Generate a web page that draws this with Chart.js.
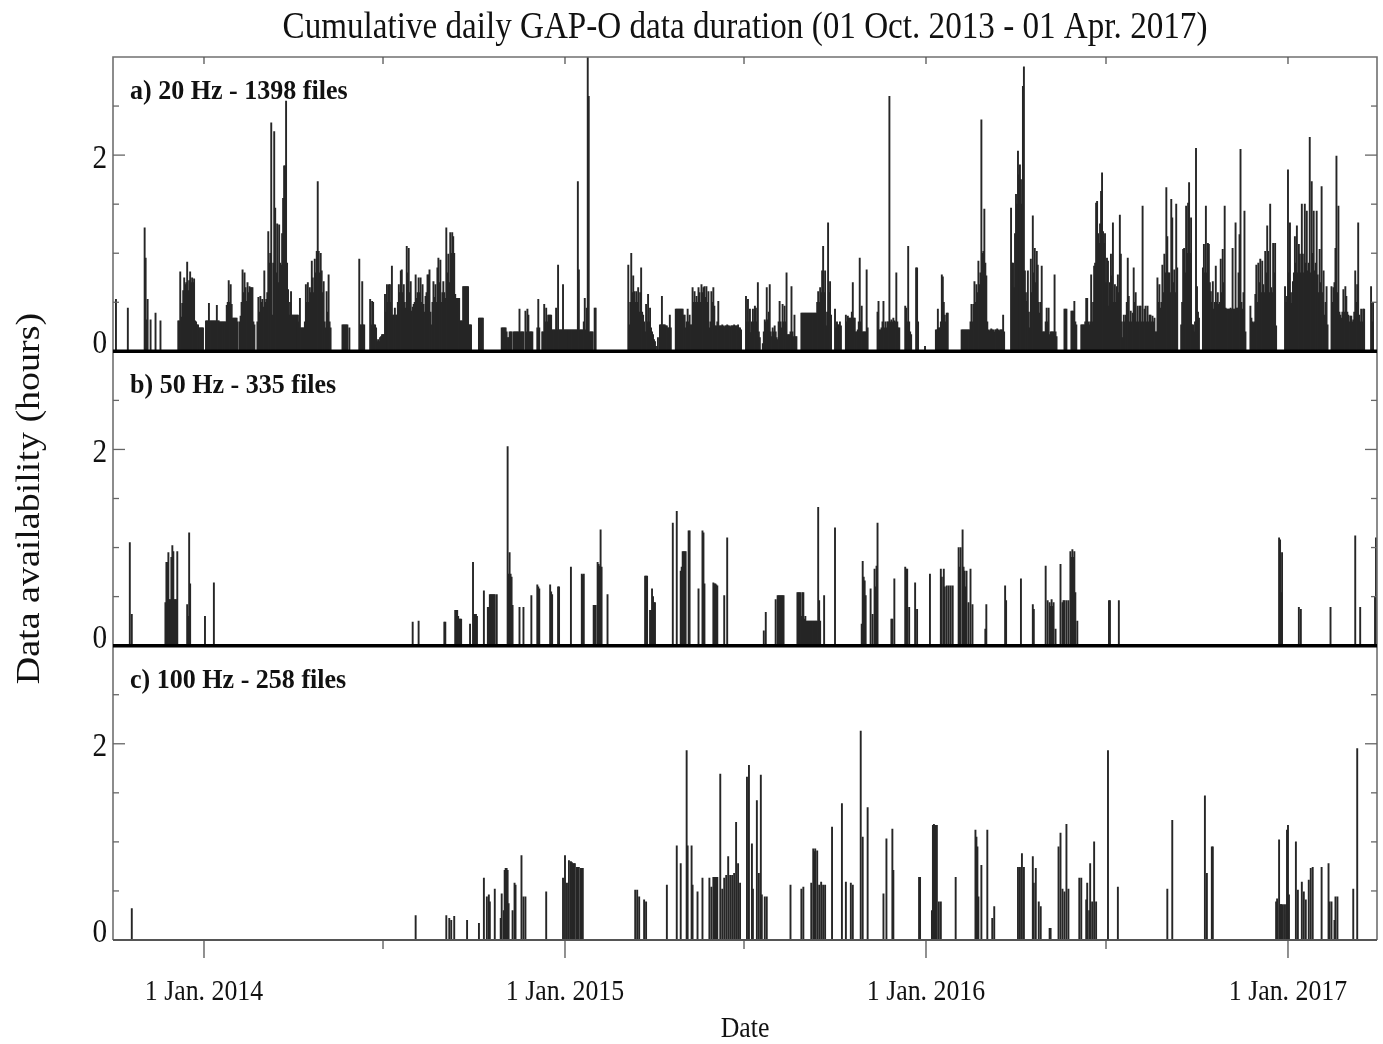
<!DOCTYPE html>
<html>
<head>
<meta charset="utf-8">
<title>Cumulative daily GAP-O data duration</title>
<script src="https://cdn.jsdelivr.net/npm/chart.js@4.4.1/dist/chart.umd.min.js"></script>
<style>
  html, body { margin: 0; padding: 0; background: #ffffff; }
  canvas { display: block; }
</style>
</head>
<body>
<canvas id="chart" width="1383" height="1044"></canvas>
<script>
// ---- record period -------------------------------------------------------
const seriesStart = Date.UTC(2013, 9, 1);          // 01 Oct. 2013
const seriesDays = 1278;                            // up to 01 Apr. 2017
const hoursMax = 3;

// ---- axis ticks (days since 01 Oct. 2013) --------------------------------
const xTickDays = [92, 457, 822, 1188];
const xTickLabels = ['1 Jan. 2014', '1 Jan. 2015', '1 Jan. 2016', '1 Jan. 2017'];
const xMinorDays = [273, 638, 1004];                // 1 July
const yTickValues = [0, 2];
const yTickLabels = ['0', '2'];
const yMinorStep = 0.5;

// ---- texts ----------------------------------------------------------------
const chartTitle = 'Cumulative daily GAP-O data duration (01 Oct. 2013 - 01 Apr. 2017)';
const xTitle = 'Date';
const yTitle = 'Data availability (hours)';
const panelLabels = ['a) 20 Hz - 1398 files', 'b) 50 Hz - 335 files', 'c) 100 Hz - 258 files'];

// ---- 20 Hz: one row per month from Oct. 2013, one value per day (hours) ---
const hz20Monthly = [
  [0,0,0,0.53,0,0,0,0,0,0,0,0,0,0,0,0.44,0,0,0,0,0,0,0,0,0,0,0,0,0,0,0],
  [0,1.26,0.95,0.32,0.53,0,0,0.32,0,0,0,0,0.39,0,0,0,0,0.31,0,0,0,0,0,0,0,0,0,0,0,0],
  [0,0,0,0,0,0.31,0.31,0.81,0.35,0.49,0.62,0.75,0.68,0.7,0.91,0.62,0.72,0.81,0.7,0.75,0.7,0.74,0.31,0.3,0.27,0.27,0.24,0.24,0.24,0.24,0.24],
  [0,0,0.31,0.31,0.31,0.49,0.31,0.31,0.31,0.31,0.31,0.31,0.31,0.47,0.31,0.31,0.3,0.3,0.3,0.3,0.3,0.3,0.3,0.47,0.5,0.72,0.5,0.68,0.48,0.34,0.34],
  [0.34,0.34,0.34,0.3,0,0.3,0.36,0.5,0.83,0.6,0.8,0.65,0.51,0.7,0.6,0.66,0.65,0.65,0.65,0.3,0.27,0,0,0.3,0.55,0.4,0.56,0.5],
  [0.53,0.45,0.82,0.5,0.53,0.6,1.22,0.9,1.0,2.33,0.37,0.9,2.24,1.46,0.8,1.3,0.7,1.29,0.9,0.88,1.2,1.56,1.89,1.89,2.55,0.9,0.63,0.37,0.5,0.61,0.37],
  [0.37,0.37,0.37,0.37,0.37,0.37,0.3,0.54,0.24,0.24,0.24,0.24,0.3,0.68,0.5,0.7,0.5,0.65,0.6,0.92,0.75,0.6,0.94,0.8,1.02,1.73,1.02,0.8,1.0,0.82],
  [0.6,0.71,0.3,0.24,0.61,0.4,0.78,0.3,0.24,0,0,0,0,0,0,0,0,0,0,0,0.27,0.27,0.27,0.27,0.27,0.27,0,0.24,0,0,0],
  [0,0,0,0,0,0,0.94,0.27,0.27,0.71,0.27,0.27,0,0,0,0,0,0.53,0.27,0.51,0.5,0.27,0.27,0.24,0.1,0.12,0.1,0.14,0.15,0.17],
  [0.17,0.17,0.58,0.4,0.68,0.5,0.68,0.68,0.5,0.87,0.37,0.37,0.44,0.37,0.37,0.5,0.68,0.6,0.82,0.83,0.6,0.68,0.5,0.44,1.07,0.8,1.05,0.6,0.71,0.41,0.45],
  [0.48,0.5,0.78,0.54,0.6,0.75,0.6,0.75,0.5,0.68,0.48,0.4,0.56,0.6,0.78,0.78,0.83,0.4,0.27,0.5,0.71,0.55,0.68,0.5,0.85,0.95,0.7,0.93,0.5,0.6,0.71],
  [0.6,0.54,1.26,0.8,0.99,0.7,1.21,1.0,1.21,1.17,1.0,0.58,0.54,0.54,0.54,0.54,0.31,0.31,0.31,0.66,0.66,0.66,0.66,0.66,0.66,0.27,0.27,0.27,0,0],
  [0,0,0,0,0,0.34,0.34,0.34,0.34,0.34,0,0,0,0,0,0,0,0,0,0,0,0,0,0,0,0,0,0,0.24,0.24,0.24],
  [0.24,0.24,0.2,0.14,0.14,0.2,0.2,0.2,0,0.2,0.2,0.2,0.2,0.2,0.2,0.43,0.2,0.2,0.2,0.2,0,0.41,0.2,0.43,0.37,0.2,0.2,0.2,0.2,0],
  [0,0,0,0.24,0.53,0.24,0,0,0.2,0.2,0.48,0.3,0.44,0.3,0.37,0.37,0.37,0.37,0.22,0.22,0.22,0.22,0.44,0.22,0.88,0.22,0.22,0.22,0.22,0.68,0.22],
  [0.22,0.22,0.22,0.22,0.22,0.22,0.22,0.22,0.22,0.22,0.22,0.22,0.22,1.73,0.83,0.22,0.22,0.22,0.22,0.3,0.54,0.22,0.44,3.05,2.6,0.2,0.2,0.2,0.2,0,0.44],
  [0.44,0,0,0,0,0,0,0,0,0,0,0,0,0,0,0,0,0,0,0,0,0,0,0,0,0,0,0],
  [0,0,0,0,0,0.88,0.27,0.5,1.0,0.6,0.77,0.61,0.5,0.61,0.5,0.65,0.4,0.6,0.85,0.4,0.37,0.3,0.2,0.48,0.3,0.58,0.3,0.44,0.24,0.2,0.17],
  [0.12,0.1,0.05,0,0.14,0,0.27,0.27,0.56,0.27,0.27,0.27,0.26,0.26,0.24,0.24,0.37,0.24,0,0,0,0,0.43,0.43,0.43,0.43,0.43,0.43,0.43,0.43],
  [0.37,0.37,0.24,0.3,0.43,0.3,0.37,0.27,0.27,0.65,0.5,0.61,0.5,0.56,0.5,0.65,0.6,0.5,0.68,0.6,0.65,0.66,0.55,0.66,0.5,0.61,0.24,0.3,0.61,0.5,0.65],
  [0.46,0.26,0.26,0.3,0.51,0.26,0.26,0.26,0.27,0.26,0.25,0.26,0.26,0.27,0.26,0.26,0.25,0.26,0.26,0.26,0.27,0.26,0.26,0.26,0.27,0.24,0.24,0.22,0,0],
  [0,0,0.56,0.3,0.53,0.3,0.43,0.19,0.3,0.43,0.3,0.46,0.44,0.3,0.7,0.2,0.14,0,0,0.08,0.2,0.32,0.3,0.65,0.32,0.4,0.68,0.2,0.15,0.24,0.2],
  [0.26,0.2,0.14,0.12,0.3,0.51,0.3,0.24,0.48,0.3,0.46,0.3,0.8,0.17,0.17,0.17,0.2,0.66,0.2,0.15,0.37,0.15,0.15,0,0,0,0,0.39,0.39,0.39,0.39],
  [0.39,0.39,0.39,0.39,0.39,0.39,0.39,0.39,0.39,0.39,0.39,0.39,0.5,0.61,0.5,0.65,0.6,0.82,1.07,0.6,0.82,0.26,0.4,1.31,0.6,0.71,0.37,0,0,0],
  [0.43,0.24,0.3,0.27,0.27,0.3,0.26,0,0,0,0,0.37,0.3,0.36,0.34,0.34,0.34,0.4,0.7,0.34,0.34,0.2,0.2,0.22,0.3,0.95,0.3,0.46,0.2,0.2,0.2],
  [0.2,0.83,0.24,0,0,0,0,0,0,0,0,0,0.4,0.51,0.22,0.22,0.24,0.3,0.51,0.24,0.3,0.24,0.3,0.3,2.6,0.3,0.32,0.3,0.34,0.31],
  [0.3,0.8,0.3,0.24,0.24,0,0,0,0,0,0.46,0.44,0.3,1.07,0.3,0.2,0.17,0,0,0,0,0.85,0.85,0.3,0,0,0,0,0,0,0.05],
  [0,0,0,0,0,0,0,0,0,0,0.22,0.22,0.43,0.24,0.24,0.3,0.78,0.76,0.5,0.37,0.3,0.39,0.39,0,0,0,0,0,0,0,0],
  [0,0,0,0,0,0.22,0.22,0.22,0.22,0.22,0.22,0.22,0.22,0.22,0.3,0.48,0.3,0.48,0.71,0.5,0.68,0.6,0.92,0.68,0.8,2.36,1.0,1.02,1.45],
  [0.9,0.77,0.3,0.22,0.21,0.22,0.23,0.22,0.22,0.2,0.22,0.22,0.23,0.22,0.21,0.22,0.22,0.22,0.37,0.2,0,0,0,0,0,0,1.46,0.9,0.9,0.65,1.2],
  [1.6,1.5,2.04,1.8,1.9,1.75,1.5,2.7,2.9,0.82,0.6,0.51,0.82,0.4,0.24,0.94,0.6,1.38,0.8,1.05,0.7,1.02,0.88,0.5,0.39,0.5,0.87,0.2,0.2,0.2],
  [0.3,0.44,0.3,0.44,0.17,0.2,0.2,0.2,0.2,0.78,0.2,0.15,0,0,0,0,0,0,0,0.43,0.43,0.43,0,0,0,0,0.41,0.41,0.41,0.51,0.3],
  [0.27,0,0,0,0,0.27,0.27,0.27,0.27,0.3,0.54,0.54,0.3,0.27,0.3,0.78,0.3,0.5,0.87,0.9,1.51,1.53,1.2,1.1,1.3,1.63,1.82,1.22,1.1,1.2],
  [0.7,0.95,0.92,0.46,0.7,0.99,0.77,1.31,0.5,0.68,0.5,0.66,0.78,0.6,1.39,0.99,0.3,0.14,0.37,0.3,0.37,0.5,0.95,0.56,0.3,0.41,0.3,0.39,0.85,0.5,0.6],
  [0.3,0.46,0.3,0.46,0.46,0.3,1.48,0.3,0.43,0.46,0.3,0.46,0.3,0.37,0.37,0.3,0.36,0.3,0.34,0.2,0.2,0.75,0.5,0.68,0.44,0.5,0.88,0.6,0.99,0.8,1.67],
  [1.17,0.8,0.8,0.6,1.55,1.36,0.7,0.83,0.6,1.5,0.85,0,0,0,0.27,0.5,1.04,1.05,0.8,1.48,1.0,1.51,1.72,1.0,1.36,0.27,0.27,0.2,0.3,2.07],
  [0.66,0.4,0.34,0,0,0,0.85,1.09,0.8,1.48,0.8,1.1,1.09,0.7,0.61,0.5,0.71,0.43,0.5,0.87,0.5,0.6,0.48,0.5,0.94,0.6,1.04,0.7,1.48,0.44,0.43],
  [0.43,0.43,0.43,0.44,0.43,1.05,0.43,0.43,1.31,0.44,0.44,0.8,1.19,2.06,0.5,0.43,0.6,1.43,0.2,0,0,0,0,0.46,0.34,0.3,0.29,0.3,0.58,0.88],
  [0.5,0.9,0.7,0.94,0.6,0.92,0.68,0.6,1.02,0.8,1.28,1.02,0.6,1.5,0.65,0.6,1.1,0.8,1.1,0.26,0,0,0,0,0,0,0,0,0.66,0.5,0.56],
  [1.85,0.8,1.31,0.6,0.49,0.71,0.8,1.17,0.9,1.28,0.8,1.09,0.99,0.8,1.5,0.99,0.8,1.5,0.9,1.43,0.82,0.9,2.18,0.8,1.73,1.0,1.43,0.82,0.9,1.43,0.78],
  [0.6,1.04,0.7,1.68,0.6,0.82,0.37,0.5,0.66,0.27,0,0,0,0.66,0.5,0.65,0.7,1.05,1.99,0.6,1.48,0.4,0.37,0.34,0.4,0.63,0.4,0.66],
  [0.56,0.4,0.37,0.3,0.36,0.36,0.3,0.32,0.4,0.82,0.5,0.68,1.31,0.37,0.3,0.43,0.3,0.43,0.43,0,0,0,0,0,0,0.66,0.3,0.5,0,0,0]
];

// ---- 50 Hz: [day since 01 Oct. 2013, hours] -------------------------------
const hz50Records = [
  [17,1.05],[19,0.32],
  [53,0.44],[54,0.85],[55,0.85],[56,0.95],[57,0.47],[58,0.47],[59,0.9],[60,1.02],[61,0.96],[62,0.47],[63,0.47],[64,0.47],[65,0.96],
  [75,0.42],[76,0.3],[77,1.15],[78,0.63],[93,0.3],[102,0.64],
  [303,0.24],[309,0.25],[335,0.24],[336,0.24],
  [346,0.36],[347,0.36],[348,0.36],[349,0.3],[350,0.27],[351,0.27],[352,0.27],[361,0.22],
  [364,0.85],[365,0.32],[366,0.32],[367,0.32],[368,0.3],[375,0.56],
  [379,0.39],[380,0.39],[381,0.52],[382,0.52],[383,0.52],[384,0.52],[385,0.52],[386,0.52],[388,0.52],
  [399,2.03],[400,0.73],[401,0.95],[402,0.73],[403,0.7],[404,0.41],[411,0.39],[415,0.39],[423,0.51],
  [429,0.62],[430,0.6],[431,0.58],[442,0.62],[443,0.55],[444,0.52],[450,0.6],[451,0.6],[463,0.8],
  [474,0.73],[475,0.72],[476,0.73],[486,0.41],[487,0.41],[488,0.41],
  [490,0.85],[491,0.83],[492,0.81],[493,1.18],[494,0.8],[500,0.52],
  [538,0.71],[539,0.71],[540,0.71],[543,0.36],[544,0.36],[545,0.58],[546,0.5],[547,0.44],[548,0.44],
  [566,1.25],[570,1.37],[574,0.76],[575,0.8],[576,0.96],[577,0.96],[578,0.96],[579,0.96],[582,1.17],[583,1.17],
  [592,0.58],[596,1.17],[597,1.15],[598,0.63],[607,0.64],[608,0.63],[609,0.63],[610,0.62],[611,0.61],[618,0.51],[621,1.1],
  [658,0.15],[660,0.34],[670,0.47],[672,0.51],[673,0.51],[674,0.51],[675,0.51],[676,0.51],[677,0.51],[678,0.51],
  [692,0.54],[693,0.54],[694,0.54],[695,0.54],[696,0.3],[697,0.54],[698,0.54],[699,0.27],[700,0.3],
  [701,0.25],[702,0.25],[703,0.25],[704,0.25],[705,0.25],[706,0.25],[707,0.25],[708,0.25],[709,0.25],[710,0.25],[711,0.25],[712,0.25],
  [713,1.41],[714,0.46],[715,0.25],[719,0.51],[730,1.2],
  [757,0.22],[758,0.86],[759,0.7],[760,0.66],[761,0.51],[766,0.58],[768,0.32],[770,0.78],[771,0.6],[772,0.81],[773,1.25],
  [787,0.27],[788,0.27],[790,0.68],[801,0.8],[802,0.78],[803,0.78],[805,0.39],[811,0.64],[813,0.37],[826,0.73],
  [837,0.78],[838,0.7],[840,0.78],[841,0.6],[843,0.61],[845,0.61],[847,0.61],[849,0.61],
  [855,1.0],[856,0.8],[857,1.0],[859,1.18],[860,0.8],[861,0.76],[862,0.6],[863,0.76],[865,0.44],[867,0.78],[869,0.42],
  [882,0.17],[883,0.42],[902,0.61],[903,0.46],[918,0.68],[930,0.42],[931,0.37],
  [943,0.81],[945,0.46],[947,0.44],[948,0.4],[949,0.47],[950,0.4],[951,0.44],[953,0.17],
  [958,0.83],[960,0.44],[961,0.46],[962,0.46],[964,0.46],[966,0.46],[968,0.96],[969,0.9],[970,0.98],[971,0.9],[972,0.96],[973,0.54],[975,0.25],
  [1007,0.46],[1008,0.46],[1017,0.46],
  [1179,1.1],[1180,1.08],[1181,0.54],[1182,0.95],[1199,0.39],[1201,0.37],[1231,0.39],[1256,1.12],[1261,0.39],[1276,0.5],[1277,1.1]
];

// ---- 100 Hz: [day since 01 Oct. 2013, hours] ------------------------------
const hz100Records = [
  [19,0.32],
  [306,0.25],[337,0.25],[340,0.22],[342,0.2],[345,0.24],[358,0.2],[370,0.17],
  [375,0.63],[378,0.44],[380,0.46],[381,0.39],[386,0.52],
  [392,0.22],[393,0.47],[395,0.3],[396,0.71],[397,0.73],[398,0.73],[399,0.71],[400,0.37],
  [404,0.3],[406,0.58],[407,0.56],[413,0.86],[415,0.44],[417,0.44],[438,0.49],
  [455,0.63],[457,0.86],[459,0.58],[461,0.81],[463,0.8],[464,0.79],[465,0.78],[466,0.78],[467,0.78],[469,0.74],[470,0.74],[471,0.74],[473,0.73],[474,0.73],[475,0.73],
  [528,0.51],[530,0.51],[532,0.44],[537,0.41],[539,0.39],
  [560,0.56],[570,0.96],[574,0.78],[580,1.93],[581,0.96],[585,0.96],[586,0.56],[591,0.49],[596,0.63],
  [603,0.63],[605,0.54],[607,0.64],[608,0.64],[609,0.64],[610,0.64],[611,0.64],[614,1.69],[616,0.52],[618,0.63],[620,0.66],[622,0.85],[624,0.66],[626,0.66],[628,0.68],[630,1.2],[632,0.78],[634,0.58],
  [641,1.66],[643,1.78],[646,0.98],[647,0.52],[651,1.42],[653,0.68],[655,1.68],[656,0.46],[659,0.44],[661,0.44],
  [685,0.56],[696,0.52],[698,0.54],
  [706,0.58],[708,0.93],[709,0.9],[710,0.93],[712,0.91],[714,0.56],[716,0.59],[718,0.56],[720,0.56],
  [727,1.15],[737,1.39],[741,0.59],[746,0.58],[748,0.56],[756,2.13],[758,1.05],[763,1.35],
  [779,0.47],[782,1.03],[788,1.13],[789,0.71],[815,0.64],[816,0.64],
  [828,0.3],[829,1.17],[830,1.18],[831,1.17],[832,1.17],[833,1.17],[835,0.39],[837,0.39],[852,0.64],
  [872,1.12],[873,1.05],[874,0.95],[875,0.44],[878,0.76],[884,1.12],[889,0.22],[891,0.34],
  [915,0.74],[917,0.74],[919,0.88],[921,0.74],[930,0.85],[931,0.58],[933,0.73],[936,0.39],[938,0.34],
  [947,0.12],[948,0.12],[956,0.95],[958,1.09],[960,0.52],[962,0.49],[964,1.18],[966,0.52],
  [977,0.63],[979,0.63],[984,0.41],[985,0.58],[987,0.3],[988,0.78],[990,0.39],[992,1.0],[994,0.39],
  [1006,1.93],[1016,0.54],[1066,0.52],[1071,1.22],[1104,1.47],[1106,0.68],[1111,0.95],[1112,0.95],
  [1176,0.39],[1177,0.42],[1179,1.02],[1180,0.36],[1181,0.36],[1182,0.36],[1184,0.36],[1186,0.36],[1187,1.12],[1188,1.17],[1189,0.46],
  [1196,1.0],[1198,0.51],[1202,0.59],[1204,0.49],[1206,0.41],[1209,0.61],[1211,0.73],[1213,0.74],
  [1222,0.74],[1229,0.78],[1230,0.39],[1232,0.39],[1235,0.2],[1236,0.44],[1238,0.44],[1254,0.52],[1258,1.95]
];

// ---- build point lists -----------------------------------------------------
const DAY_MS = 86400000;
const hz20Points = [];
hz20Monthly.forEach((row, m) => {
  const first = Math.round((Date.UTC(2013, 9 + m, 1) - seriesStart) / DAY_MS);
  row.forEach((h, j) => { if (h > 0) hz20Points.push({ x: first + j, y: h }); });
});
const toPoints = recs => recs.map(([d, h]) => ({ x: d, y: h }));

// ---- styling ---------------------------------------------------------------
const SERIF = '"Liberation Serif", "Times New Roman", serif';
const SQUEEZE = 0.86;               // narrow type used for the labels
const panelIds = ['yA', 'yB', 'yC'];

const barStyle = {
  backgroundColor: '#262626',
  borderWidth: 0,
  barThickness: 1.25,
  grouped: false
};

const panelAxis = (weight) => ({
  type: 'linear',
  position: 'left',
  stack: 'panels',
  stackWeight: 1,
  weight: weight,
  min: 0,
  max: hoursMax,
  offset: false,
  grid: { display: false },
  border: { display: false },
  ticks: { display: false, stepSize: yMinorStep },
  afterFit: s => { s.width = 10; }
});

function drawText(ctx, text, x, y, font, align, squeeze, rotate) {
  ctx.save();
  ctx.translate(x, y);
  ctx.scale(squeeze, 1);
  if (rotate) ctx.rotate(-Math.PI / 2);
  ctx.font = font;
  ctx.textAlign = align;
  ctx.textBaseline = 'alphabetic';
  ctx.fillStyle = '#111111';
  ctx.fillText(text, 0, 0);
  ctx.restore();
}

function seg(ctx, x1, y1, x2, y2) {
  ctx.beginPath();
  ctx.moveTo(x1, y1);
  ctx.lineTo(x2, y2);
  ctx.stroke();
}

// frame, ticks, baselines and all lettering
const panelFrame = {
  id: 'panelFrame',
  afterDatasetsDraw(chart) {
    const { ctx, chartArea: a, scales } = chart;
    const xs = scales.x;
    ctx.save();
    ctx.lineCap = 'butt';

    // outer box
    ctx.strokeStyle = '#707070';
    ctx.lineWidth = 1.6;
    ctx.beginPath();
    ctx.moveTo(a.left, a.bottom);
    ctx.lineTo(a.left, a.top);
    ctx.lineTo(a.right, a.top);
    ctx.lineTo(a.right, a.bottom);
    ctx.stroke();

    // date ticks: inward along the top, outward below the last panel
    ctx.lineWidth = 1.3;
    ctx.strokeStyle = '#555555';
    xTickDays.concat(xMinorDays).forEach(d => {
      const px = xs.getPixelForValue(d);
      seg(ctx, px, a.top, px, a.top + 7);
    });
    xTickDays.forEach(d => {
      const px = xs.getPixelForValue(d);
      seg(ctx, px, a.bottom, px, a.bottom + 18);
    });
    xMinorDays.forEach(d => {
      const px = xs.getPixelForValue(d);
      seg(ctx, px, a.bottom, px, a.bottom + 9);
    });

    panelIds.forEach((id, i) => {
      const ys = scales[id];
      // hour ticks on both sides
      ctx.strokeStyle = '#666666';
      ctx.lineWidth = 1.3;
      for (let v = yMinorStep; v < ys.max; v += yMinorStep) {
        const py = ys.getPixelForValue(v);
        const len = yTickValues.includes(v) ? 12 : 6;
        seg(ctx, a.left, py, a.left + len, py);
        seg(ctx, a.right, py, a.right - len, py);
      }
      // zero line of the panel
      const py0 = ys.getPixelForValue(0);
      if (i < panelIds.length - 1) {
        ctx.strokeStyle = '#000000';
        ctx.lineWidth = 3.5;
      } else {
        ctx.strokeStyle = '#555555';
        ctx.lineWidth = 1.8;
      }
      seg(ctx, a.left, py0, a.right, py0);
    });
    ctx.restore();
  },
  afterDraw(chart) {
    const { ctx, chartArea: a, scales } = chart;
    const xs = scales.x;
    const cx = (a.left + a.right) / 2;

    drawText(ctx, chartTitle, cx, 38, '38px ' + SERIF, 'center', 0.872);

    panelIds.forEach((id, i) => {
      const ys = scales[id];
      drawText(ctx, panelLabels[i], a.left + 17, ys.top + 42, 'bold 28px ' + SERIF, 'left', 0.93);

      yTickValues.forEach((v, k) => {
        const py = ys.getPixelForValue(v);
        const base = v === 0 ? py + 2 : py + 12.5;
        drawText(ctx, yTickLabels[k], a.left - 6, base, '34px ' + SERIF, 'right', SQUEEZE);
      });
    });

    xTickDays.forEach((d, k) => {
      drawText(ctx, xTickLabels[k], xs.getPixelForValue(d), 1000, '30px ' + SERIF, 'center', SQUEEZE);
    });
    drawText(ctx, xTitle, cx, 1037, '30px ' + SERIF, 'center', SQUEEZE);

    const yMid = (scales.yA.top + scales.yC.bottom) / 2;
    drawText(ctx, yTitle, 39, yMid, '38px ' + SERIF, 'center', SQUEEZE, true);
  }
};

new Chart(document.getElementById('chart'), {
  type: 'bar',
  data: {
    datasets: [
      { ...barStyle, label: '20 Hz', data: hz20Points, yAxisID: 'yA' },
      { ...barStyle, label: '50 Hz', data: toPoints(hz50Records), yAxisID: 'yB' },
      { ...barStyle, label: '100 Hz', data: toPoints(hz100Records), yAxisID: 'yC' }
    ]
  },
  options: {
    responsive: false,
    animation: false,
    devicePixelRatio: 1,
    layout: { padding: { left: 103, right: 6, top: 57, bottom: 94 } },
    plugins: {
      legend: { display: false },
      tooltip: { enabled: false },
      title: { display: false }
    },
    scales: {
      x: {
        type: 'linear',
        position: 'bottom',
        min: 0,
        max: seriesDays,
        offset: false,
        grid: { display: false },
        border: { display: false },
        ticks: { display: false },
        afterFit: s => { s.height = 10; }
      },
      yC: panelAxis(1),
      yB: panelAxis(2),
      yA: panelAxis(3)
    }
  },
  plugins: [panelFrame]
});
</script>
</body>
</html>
